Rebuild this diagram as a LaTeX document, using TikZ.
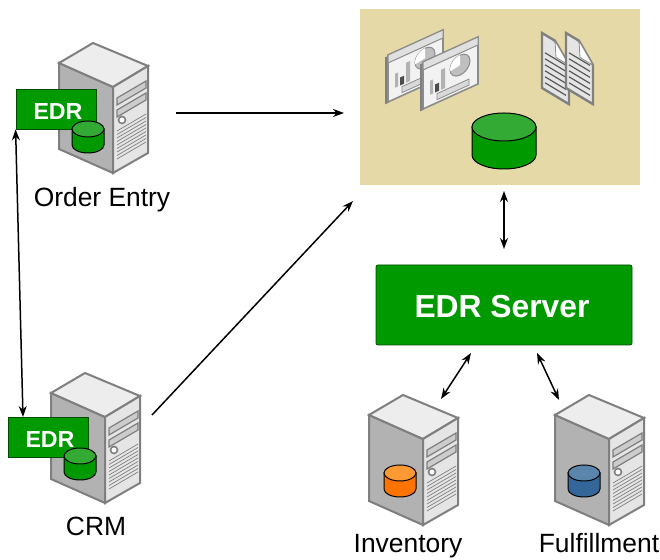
\documentclass[tikz,border=0pt]{standalone}
\usepackage{fontspec}
\usetikzlibrary{arrows.meta}
\setmainfont{Liberation Sans}
\definecolor{edrgreen}{HTML}{009900}
\definecolor{edrtop}{HTML}{33AA33}
\definecolor{panelbeige}{HTML}{E6D9A8}
\definecolor{towerline}{HTML}{7F7F7F}
\definecolor{drumblue}{HTML}{336699}
\definecolor{drumbluetop}{HTML}{5C85AD}
\newcommand{\dbdrum}[7]{% x, y, rx, ry, height, side colour, top colour
    \draw[fill=#6,line width=.5pt] (#1-#3,#2) -- (#1-#3,#2+#5) arc[start angle=180,end angle=360,x radius=#3,y radius=-#4] -- (#1+#3,#2) -- cycle;
    \draw[fill=#7,line width=.5pt] (#1,#2) ellipse[x radius=#3,y radius=#4];
}
\tikzset{
    >={Stealth[length=5.5pt,width=4pt]},
    link/.style={<->,line width=.75pt},
    flow/.style={->,line width=.75pt},
    caption/.style={font=\fontsize{13.2}{15}\selectfont},
    edrbox/.style={draw=green!30!black,line width=.4pt,fill=edrgreen,text=white,font=\fontsize{11.6}{13}\bfseries\selectfont,minimum width=40pt,minimum height=20pt,inner sep=0pt,text height=11pt,text depth=0pt},
    servertower/.pic={
        \draw[towerline,line width=1pt,fill=black!30] (0,0) -- (54,24) -- (54,110) -- (0,86) -- cycle;
        \draw[towerline,line width=1pt,fill=black!7] (0,0) -- (34,-20) -- (89,3) -- (54,24) -- cycle;
        \draw[towerline,line width=1pt,fill=black!10] (54,24) -- (89,3) -- (89,90) -- (54,110) -- cycle;
        \draw[towerline,line width=.6pt,fill=black!20] (58,35) -- (87,18) -- (87,25) -- (58,42) -- cycle;
        \draw[towerline,line width=.6pt,fill=black!20] (58,47) -- (87,30) -- (87,37) -- (58,54) -- cycle;
        \draw[towerline,line width=.8pt,fill=white] (63,57) circle (3.5);
        \foreach \v in {0,3.5,...,31}
            \draw[towerline,line width=.35pt] (58,68+\v) -- (87,51+\v);
    },
    dashicon/.pic={
        \begin{scope}[yslant=.455]
            \fill[black!50] (-3,1) rectangle (1,48);
            \draw[black!45,line width=.8pt,fill=black!5] (0,0) rectangle (55,47);
            \draw[black!45,line width=.5pt,fill=black!12] (0,0) rectangle (55,8);
            \fill[black!30] (7,22) rectangle (10,36);
            \fill[black!70] (12,28) rectangle (16,36);
            \fill[black!30] (18,16) rectangle (22,36);
            \draw[black!45,line width=.5pt,fill=black!25] (37,20) circle (10);
            \fill[white] (37,20) -- (37,10) arc[start angle=90,end angle=-10,radius=-10] -- cycle;
            \draw[black!45,fill=black!15,line width=.4pt] (14,38) rectangle (46,44);
        \end{scope}
    },
    docicon/.pic={
        \begin{scope}[yslant=-.6]
            \draw[black!50,line width=1.2pt,fill=black!10] (0,0) -- (13,0) -- (27,16) -- (27,55) -- (0,55) -- cycle;
            \draw[black!45,line width=.4pt,fill=white] (13,0) -- (27,16) -- (14,16) -- cycle;
            \foreach \v in {18,24,...,48}
                \draw[black!65,line width=.6pt] (3,\v) -- (24,\v);
        \end{scope}
    }
}
\begin{document}
\begin{tikzpicture}[x=.5pt,y=-.5pt]
    \useasboundingbox (0,0) rectangle (660,560);

    % reports panel
    \node[fill=panelbeige,minimum width=140pt,minimum height=88pt,inner sep=0pt] (panel) at (500,97) {};
    \pic at (388,55) {dashicon};
    \pic at (423,62) {dashicon};
    \pic at (542,33) {docicon};
    \pic at (566,33) {docicon};
    \dbdrum{504}{127}{32}{14}{28}{edrgreen}{edrtop}

    % order entry
    \pic at (59,63) {servertower};
    \node[edrbox] (oeedr) at (56,109) {\hspace{2pt}EDR};
    \dbdrum{88}{129}{16}{8}{16}{edrgreen}{edrtop}
    \node[caption] (oelabel) at (102,200) {Order Entry};

    % crm
    \pic at (51,393) {servertower};
    \node[edrbox] (crmedr) at (48,437) {\hspace{2pt}EDR};
    \dbdrum{80}{456}{16}{8}{16}{edrgreen}{edrtop}
    \node[caption] (crmlabel) at (96,526) {CRM};

    % edr server
    \node[draw=green!30!black,line width=.4pt,fill=edrgreen,rounded corners=1pt,text=white,font=\fontsize{15.9}{18}\bfseries\selectfont,minimum width=128pt,minimum height=40pt,inner sep=0pt,text height=12.4pt,text depth=0pt] (edrserver) at (504,305) {\hspace{-2pt}EDR Server};

    % inventory
    \pic at (369,415) {servertower};
    \dbdrum{400}{473}{16}{8}{16}{orange!90!red}{orange!80!white}
    \node[caption] (invlabel) at (408,546) {Inventory};

    % fulfillment
    \pic at (555,415) {servertower};
    \dbdrum{584}{473}{16}{8}{16}{drumblue}{drumbluetop}
    \node[caption] (fullabel) at (599,543) {Fulfillment};

    % free ends of the arrows
    \coordinate (oeout) at (176,113);
    \coordinate (panelin) at (344,113);
    \coordinate (crmout) at (152,415);
    \coordinate (panelcorner) at (353,201);
    \coordinate (crmtop) at (23,417);
    \coordinate (srvleft) at (471,353);
    \coordinate (invtop) at (441,399);
    \coordinate (srvright) at (537,353);
    \coordinate (fultop) at (559,400);
    \coordinate (panelunder) at (504,191);
    \coordinate (srvover) at (504,249);

    \draw[flow] (oeout) -- (panelin);
    \draw[flow] (crmout) -- (panelcorner);
    \draw[link] (oeedr.south west) -- (crmtop);
    \draw[link] (panelunder) -- (srvover);
    \draw[link] (srvleft) -- (invtop);
    \draw[link] (srvright) -- (fultop);
\end{tikzpicture}
\end{document}
